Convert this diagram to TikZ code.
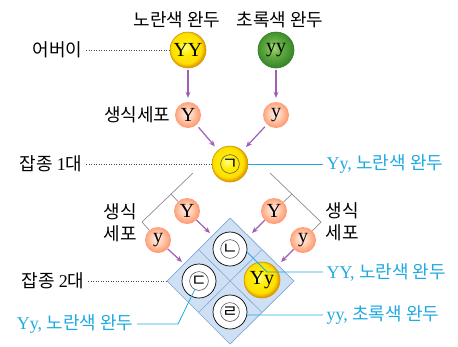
\documentclass[tikz,border=0pt]{standalone}
\usepackage{fontspec}
\setmainfont{Liberation Serif}
\newfontfamily\kr{Noto Sans CJK KR}
\usetikzlibrary{arrows.meta, calc}

\definecolor{genarrow}{HTML}{A25DB5}
\definecolor{tagblue}{HTML}{1FA9E1}
\definecolor{cellfill}{HTML}{CFE0F4}
\definecolor{celledge}{HTML}{80A6D8}
\definecolor{peagold}{HTML}{C89A00}
\definecolor{peagreen}{HTML}{2F7A22}
\definecolor{greenhi}{HTML}{A6DA7A}
\definecolor{greenmid}{HTML}{66AE44}
\definecolor{greenrim}{HTML}{3A8A2A}

% soft balls for the peas and gametes
\pgfdeclareradialshading{yellowball}{\pgfpoint{-4bp}{4bp}}{%
  color(0bp)=(yellow!45!white); color(10bp)=(yellow!85!orange);
  color(21bp)=(yellow!75!orange); color(25bp)=(orange!60!yellow!90!black);
  color(50bp)=(orange!60!yellow!90!black)}
\pgfdeclareradialshading{greenball}{\pgfpoint{-4bp}{4bp}}{%
  color(0bp)=(greenhi); color(11bp)=(greenmid);
  color(25bp)=(greenrim); color(50bp)=(greenrim)}
\pgfdeclareradialshading{pinkball}{\pgfpoint{-3bp}{3bp}}{%
  color(0bp)=(red!8!white); color(12bp)=(red!25!orange!30!white);
  color(25bp)=(red!45!orange!55!white); color(50bp)=(red!45!orange!55!white)}

\begin{document}
\begin{tikzpicture}[x=1pt, y=-1pt,
  yellowpea/.style={circle, minimum size=36pt, inner sep=0pt, draw=peagold, line width=0.6pt,
    shading=yellowball, font=\fontsize{20}{20}\selectfont},
  greenpea/.style={circle, minimum size=36pt, inner sep=0pt, draw=peagreen, line width=0.6pt,
    shading=greenball, font=\fontsize{20}{20}\selectfont},
  gam/.style={circle, minimum size=26pt, inner sep=0pt,
    shading=pinkball, font=\fontsize{20}{20}\selectfont},
  whitepea/.style={circle, minimum size=34pt, inner sep=0pt, draw, line width=0.7pt, fill=white},
  jamo/.style={circle, minimum size=17pt, inner sep=0pt, draw=black!65, line width=0.6pt,
    font=\kr\fontsize{17}{17}\selectfont},
  kor/.style={font=\kr\fontsize{18}{22}\selectfont},
  tag/.style={text=tagblue, font=\fontsize{18}{20}\selectfont},
  tagline/.style={draw=tagblue, line width=0.8pt},
  guide/.style={draw=black!70, line width=0.7pt, dash pattern=on 1pt off 1.5pt},
  gen/.style={draw=genarrow, line width=1.2pt, -{Stealth[length=6pt, width=5pt]}},
  brace/.style={draw=black!45, line width=0.7pt}
]
  \useasboundingbox (0,0) rectangle (458,346);

  % Punnett square (diamond)
  \draw[fill=cellfill, draw=celledge, line width=0.7pt]
    (230,218) -- (294,281) -- (230,344) -- (167,281) -- cycle;
  \draw[celledge, line width=0.6pt] (198.5,249.5) -- (262,312.5);
  \draw[celledge, line width=0.6pt] (262,249.5) -- (198.5,312.5);

  % Parents
  \node[kor] (hdY) at (177,20) {노란색 완두};
  \node[kor] (hdy) at (280,20) {초록색 완두};
  \node[yellowpea] (YY) at (188,50) {YY};
  \node[greenpea] (yy) at (276,50) {yy};
  \node[kor, anchor=east] (lblP) at (86,50) {어버이};

  % Gametes of the parents
  \node[gam] (Yg) at (188,115) {Y};
  \node[gam] (yg) at (276,115) {y};
  \node[kor, anchor=east] (lblG) at (174,115) {생식세포};

  % First generation
  \node[yellowpea] (F1) at (230,164) {};
  \node[jamo] (inA) at (F1) {ㄱ};
  \node[kor, anchor=east] (lblF1) at (86,164) {잡종 {\rmfamily 1}대};
  \node[tag, anchor=west] (tagF1) at (323,164) {Yy, {\kr 노란색 완두}};

  % Gametes of the first generation
  \node[gam] (YL) at (187,211) {Y};
  \node[gam] (yL) at (158,240) {y};
  \node[gam] (YR) at (274,211) {Y};
  \node[gam] (yR) at (303,240) {y};
  \node[kor, align=center] (lblGL) at (120,223) {생식\\세포};
  \node[kor, align=center] (lblGR) at (342,222) {생식\\세포};

  % Second generation
  \node[whitepea] (cellB) at (230,249) {};
  \node[jamo] (inB) at (cellB) {ㄴ};
  \node[whitepea] (cellC) at (199,281) {};
  \node[jamo] (inC) at (cellC) {ㄷ};
  \node[yellowpea] (cellYy) at (262,280) {Yy};
  \node[whitepea] (cellD) at (230,312) {};
  \node[jamo] (inD) at (cellD) {ㄹ};
  \node[kor, anchor=east] (lblF2) at (88,281) {잡종 {\rmfamily 2}대};

  \node[tag, anchor=west] (tagYY) at (323,272) {YY, {\kr 노란색 완두}};
  \node[tag, anchor=west] (tagyy) at (323,315) {yy, {\kr 초록색 완두}};
  \node[tag, anchor=east] (tagYy) at (137,324) {Yy, {\kr 노란색 완두}};

  % Dotted guides
  \draw[guide] (lblP) -- (YY);
  \draw[guide] (lblF1) -- (F1);
  \draw[guide] (lblF2) -- (167,281);

  % Arrows
  \draw[gen, shorten <=2pt, shorten >=4pt] (YY) -- (Yg);
  \draw[gen, shorten <=2pt, shorten >=4pt] (yy) -- (yg);
  \draw[gen, shorten <=3pt, shorten >=5pt] (Yg) -- (F1);
  \draw[gen, shorten <=3pt, shorten >=5pt] (yg) -- (F1);

  \coordinate (tipYL) at (210,233);
  \coordinate (tipyL) at (182,262);
  \coordinate (tipYR) at (252,233);
  \coordinate (tipyR) at (281,262);
  \draw[gen] (YL) -- (tipYL);
  \draw[gen] (yL) -- (tipyL);
  \draw[gen] (YR) -- (tipYR);
  \draw[gen] (yR) -- (tipyR);

  % Brackets around the gametes
  \coordinate (brLtop) at (193,173);
  \coordinate (brLmid) at (171,194);
  \coordinate (brLcorner) at (142,222);
  \draw[brace] (brLtop) -- (brLcorner) -- (yL);
  \draw[brace] (brLmid) -- (YL);

  \coordinate (brRtop) at (270,173);
  \coordinate (brRmid) at (292,194);
  \coordinate (brRcorner) at (321,222);
  \draw[brace] (brRtop) -- (brRcorner) -- (yR);
  \draw[brace] (brRmid) -- (YR);

  % Label lines
  \draw[tagline] (F1) -- (tagF1.west);
  \coordinate (bendB) at (267,272);
  \draw[tagline] (cellB.-10) -- (bendB) -- (tagYY.west);
  \draw[tagline] (cellD.-10) -- (tagyy.west);
  \coordinate (bendC) at (178,324);
  \draw[tagline] (inC) -- (bendC) -- (tagYy.east);
\end{tikzpicture}
\end{document}
